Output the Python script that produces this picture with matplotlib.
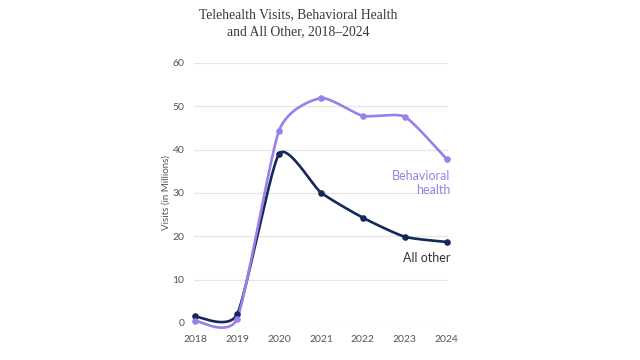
import numpy as np
import matplotlib.pyplot as plt

years = [2018, 2019, 2020, 2021, 2022, 2023, 2024]
behavioral = [0.5, 1.0, 44.4, 51.9, 47.8, 47.6, 37.8]
all_other = [1.5, 2.0, 39.0, 30.1, 24.3, 19.9, 18.7]

purple = "#9a80ea"
navy = "#14285a"
grey = "#555555"


def cardinal(x, y, tension=0.4, n=40):
    # cardinal spline through the points, end points doubled
    P = np.column_stack([x, y]).astype(float)
    pts = np.vstack([P[0], P, P[-1]])
    k = (1 - tension) / 6
    t = np.linspace(0, 1, n)[:, None]
    out = []
    for i in range(1, len(pts) - 2):
        p0, p1, p2, p3 = pts[i - 1], pts[i], pts[i + 1], pts[i + 2]
        c1 = p1 + k * (p2 - p0)
        c2 = p2 - k * (p3 - p1)
        out.append((1 - t) ** 3 * p1 + 3 * (1 - t) ** 2 * t * c1
                   + 3 * (1 - t) * t ** 2 * c2 + t ** 3 * p2)
    out = np.vstack(out)
    return out[:, 0], out[:, 1]


fig = plt.figure(figsize=(6.4, 3.6), dpi=100)
ax = fig.add_axes([0.303, 0.1028, 0.397, 0.7222])

for vals, col in ((all_other, navy), (behavioral, purple)):
    sx, sy = cardinal(years, vals)
    ax.plot(sx, sy, color=col, lw=1.9, clip_on=False, zorder=3, solid_capstyle="round")
    ax.scatter(years, vals, s=14, color=col, zorder=4, clip_on=False)

ax.set_xlim(2017.97, 2024.03)
ax.set_ylim(0, 60)
ax.set_yticks(range(0, 61, 10))
ax.set_xticks(years)
ax.grid(axis="y", color="#e6e6e6", lw=0.9)
ax.set_axisbelow(True)
for s in ax.spines.values():
    s.set_visible(False)
ax.tick_params(length=0, labelsize=7.5, labelcolor=grey, pad=7, labelfontfamily="Lato")
ax.tick_params(axis="x", pad=9)
ax.set_ylabel("Visits (in Millions)", fontsize=7, color=grey, family="Lato", labelpad=1)

ax.text(2024.08, 32.3, "Behavioral\nhealth", color=purple, fontsize=9, family="Lato",
        ha="right", va="center", linespacing=1.2)
ax.text(2024.08, 14.9, "All other", color="#333333", fontsize=9, family="Lato",
        ha="right", va="center")

fig.text(0.466, 0.978, "Telehealth Visits, Behavioral Health\nand All Other, 2018\u20132024",
         ha="center", va="top", fontsize=9.8, color="#3a3a3a", family="Liberation Serif",
         linespacing=1.45)

fig.savefig("out.png", dpi=100)
